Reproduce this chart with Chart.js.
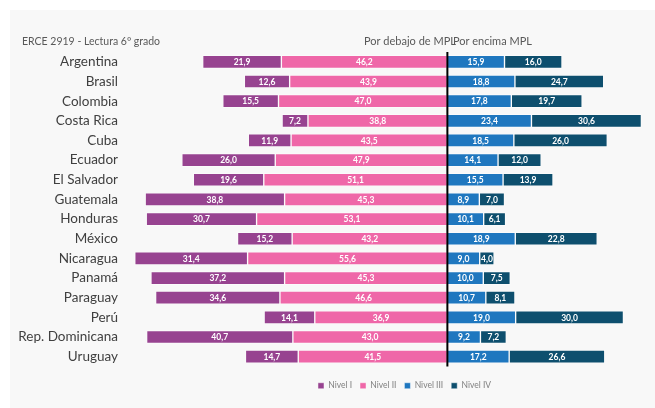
<!DOCTYPE html>
<html>
<head>
<meta charset="utf-8">
<script src="https://cdn.jsdelivr.net/npm/chart.js@4/dist/chart.umd.min.js"></script>
<style>
  body { margin: 0; background: #ffffff; }
  #wrap { position: absolute; left: 10px; top: 10px; width: 645px; height: 398px; background: #f8f8f8; }
</style>
</head>
<body>
<div id="wrap"><canvas id="chart" width="645" height="398"></canvas></div>
<script>
// datos ERCE - Lectura 6º grado (porcentajes por nivel)
var paises = ['Argentina', 'Brasil', 'Colombia', 'Costa Rica', 'Cuba', 'Ecuador', 'El Salvador', 'Guatemala',
  'Honduras', 'México', 'Nicaragua', 'Panamá', 'Paraguay', 'Perú', 'Rep. Dominicana', 'Uruguay'];
var nivel1 = [21.9, 12.6, 15.5, 7.2, 11.9, 26.0, 19.6, 38.8, 30.7, 15.2, 31.4, 37.2, 34.6, 14.1, 40.7, 14.7];
var nivel2 = [46.2, 43.9, 47.0, 38.8, 43.5, 47.9, 51.1, 45.3, 53.1, 43.2, 55.6, 45.3, 46.6, 36.9, 43.0, 41.5];
var nivel3 = [15.9, 18.8, 17.8, 23.4, 18.5, 14.1, 15.5, 8.9, 10.1, 18.9, 9.0, 10.0, 10.7, 19.0, 9.2, 17.2];
var nivel4 = [16.0, 24.7, 19.7, 30.6, 26.0, 12.0, 13.9, 7.0, 6.1, 22.8, 4.0, 7.5, 8.1, 30.0, 7.2, 26.6];
var nombresNivel = ['Nivel I', 'Nivel II', 'Nivel III', 'Nivel IV'];
var colores = ['#974390', '#ef67a8', '#1f77bf', '#0e4f6e'];

var fuente = 'Lato, "Noto Sans", sans-serif';

// etiquetas blancas dentro de cada tramo
var etiquetasPlugin = {
  id: 'etiquetas',
  afterDatasetsDraw: function(chart) {
    var ctx = chart.ctx;
    ctx.save();
    ctx.font = 'bold 8.5px ' + fuente;
    ctx.fillStyle = '#ffffff';
    ctx.textAlign = 'center';
    ctx.textBaseline = 'middle';
    chart.data.datasets.forEach(function(ds, i) {
      var meta = chart.getDatasetMeta(i);
      meta.data.forEach(function(bar, j) {
        var v = Math.abs(ds.data[j]);
        var cx = (bar.x + bar.base) / 2;
        ctx.fillText(v.toFixed(1).replace('.', ','), cx, bar.y + 0.5);
      });
    });
    ctx.restore();
  }
};

// linea vertical en cero y textos de arriba
var adornosPlugin = {
  id: 'adornos',
  afterLayout: function(chart) {
    chart.legend.left += 20;
    chart.legend.right += 20;
  },
  afterDatasetsDraw: function(chart) {
    var ctx = chart.ctx;
    var area = chart.chartArea;
    var x0 = chart.scales.x.getPixelForValue(0);
    ctx.save();
    ctx.strokeStyle = '#000000';
    ctx.lineWidth = 2;
    ctx.beginPath();
    ctx.moveTo(x0, area.top);
    ctx.lineTo(x0, area.bottom);
    ctx.stroke();

    ctx.fillStyle = '#595959';
    ctx.textBaseline = 'alphabetic';
    ctx.font = '10.5px ' + fuente;
    ctx.textAlign = 'left';
    ctx.fillText('ERCE 2919 - Lectura 6º grado', 12, 35);
    ctx.font = '11px ' + fuente;
    ctx.textAlign = 'right';
    ctx.fillText('Por debajo de MPL', x0 + 8.5, 35);
    ctx.textAlign = 'left';
    ctx.fillText('Por encima MPL', x0 + 5.5, 35);
    ctx.restore();
  }
};

var ctx = document.getElementById('chart').getContext('2d');
var grafico = new Chart(ctx, {
  type: 'bar',
  data: {
    labels: paises,
    datasets: [
      { label: nombresNivel[0], data: nivel1.map(function(v) { return -v; }), backgroundColor: colores[0], order: 1 },
      { label: nombresNivel[1], data: nivel2.map(function(v) { return -v; }), backgroundColor: colores[1], order: 0 },
      { label: nombresNivel[2], data: nivel3, backgroundColor: colores[2], order: 2 },
      { label: nombresNivel[3], data: nivel4, backgroundColor: colores[3], order: 3 }
    ]
  },
  options: {
    indexAxis: 'y',
    responsive: false,
    animation: false,
    datasets: {
      bar: { barThickness: 13, borderWidth: 1, borderColor: 'rgba(255,255,255,0.45)', borderSkipped: false }
    },
    layout: { padding: { top: 42, right: 10, bottom: 8, left: 0 } },
    plugins: {
      legend: {
        position: 'bottom',
        fullSize: false,
        labels: {
          boxWidth: 6,
          boxHeight: 6,
          padding: 8,
          color: '#808080',
          font: { family: fuente, size: 8.5 },
          sort: function(a, b) { return a.datasetIndex - b.datasetIndex; }
        }
      },
      tooltip: { enabled: false }
    },
    scales: {
      x: {
        stacked: true,
        min: -90,
        max: 55,
        grid: { display: false },
        border: { display: false },
        ticks: { display: false },
        afterFit: function(scale) { scale.height = 7; }
      },
      y: {
        stacked: true,
        grid: { display: false },
        border: { display: false },
        ticks: {
          autoSkip: false,
          padding: -2,
          color: '#404040',
          font: { family: fuente, size: 13.5 }
        },
        afterFit: function(scale) { scale.width = 114; }
      }
    }
  },
  plugins: [etiquetasPlugin, adornosPlugin]
});
</script>
</body>
</html>
